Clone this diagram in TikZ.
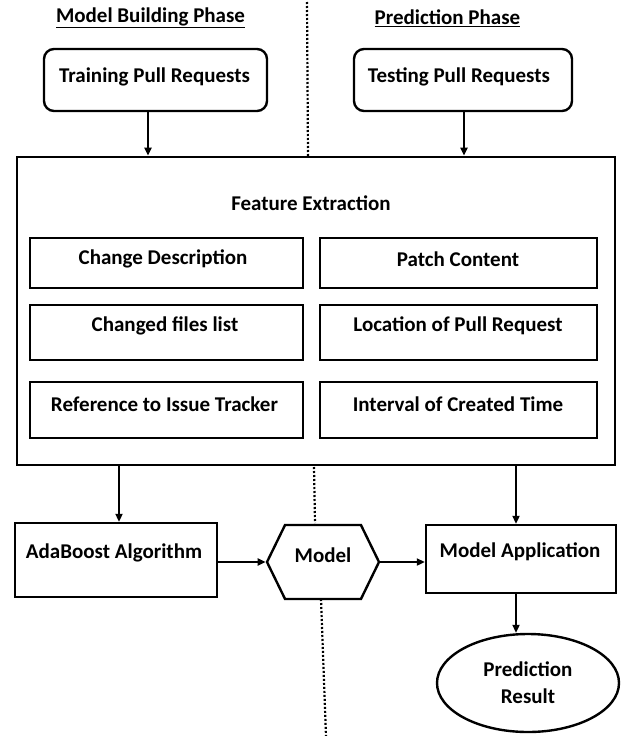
\documentclass[tikz,border=0pt]{standalone}
\usepackage{fontspec}
\setmainfont{Carlito}
\usetikzlibrary{arrows.meta,shapes.geometric,shapes.symbols}
\begin{document}
\begin{tikzpicture}[x=1pt,y=-1pt,
  box/.style={draw,line width=2.4pt,inner sep=0pt},
  txt/.style={font=\bfseries\fontsize{21}{27}\selectfont,inner sep=0pt,align=center},
  arr/.style={line width=2pt,-{Triangle[length=8pt,width=7pt]}},
  dots/.style={line width=2.2pt,dash pattern=on 2pt off 2pt}]
\useasboundingbox (0,0) rectangle (621,736);
% headings
\node[txt] (h1) at (150.5,18) {\underline{Model Building Phase}};
\node[txt] (h2) at (447.5,18) {\underline{Prediction Phase}};
% divider
\coordinate (v1) at (307,2); \coordinate (v2) at (308,157);
\coordinate (v3) at (314,467); \coordinate (v4) at (315,523);
\coordinate (v5) at (321,599); \coordinate (v6) at (326,736);
\draw[dots] (v1) -- (v2);
\draw[dots] (v3) -- (v4);
\draw[dots] (v5) -- (v6);
% inputs
\node[box,rounded corners=10pt,minimum width=223pt,minimum height=62pt] (train) at (155.5,80) {};
\node[txt] (traint) at (154.5,77) {Training Pull Requests};
\node[box,rounded corners=10pt,minimum width=218pt,minimum height=62pt] (test) at (463,80) {};
\node[txt] (testt) at (459,77) {Testing Pull Requests};
% feature extraction
\node[box,line width=2.8pt,minimum width=598pt,minimum height=308pt] (fe) at (316,311) {};
\node[txt] (fet) at (311,203) {Feature Extraction};
\node[box,minimum width=273pt,minimum height=50pt] (b1) at (166.5,263) {};
\node[txt] (b1t) at (163,259) {Change Description};
\node[box,minimum width=277pt,minimum height=50pt] (b2) at (458.5,263) {};
\node[txt] (b2t) at (458,259) {Patch Content};
\node[box,minimum width=273pt,minimum height=55pt] (b3) at (166.5,332.5) {};
\node[txt] (b3t) at (165,326) {Changed files list};
\node[box,minimum width=277pt,minimum height=55pt] (b4) at (458.5,332.5) {};
\node[txt] (b4t) at (458,326) {Location of Pull Request};
\node[box,minimum width=273pt,minimum height=56pt] (b5) at (166.5,410) {};
\node[txt] (b5t) at (164.5,404) {Reference to Issue Tracker};
\node[box,minimum width=277pt,minimum height=56pt] (b6) at (458.5,410) {};
\node[txt] (b6t) at (458,404) {Interval of Created Time};
% lower row
\node[box,minimum width=202pt,minimum height=74pt] (ada) at (116,560) {};
\node[txt] (adat) at (114,553) {AdaBoost Algorithm};
\node[box,shape=signal,signal to=east and west,signal pointer angle=128,minimum width=112pt,minimum height=74pt] (model) at (323,562) {};
\node[txt] (modelt) at (323,555) {Model};
\node[box,minimum width=190pt,minimum height=68pt] (app) at (521,559) {};
\node[txt] (appt) at (520,552) {Model Application};
\node[box,ellipse,minimum width=182pt,minimum height=98pt] (res) at (528,683) {};
\node[txt] (rest) at (528,683) {Prediction\\Result};
% connectors
\coordinate (cL) at (148,0); \coordinate (cR) at (464,0);
\coordinate (dL) at (119,0); \coordinate (dR) at (516,0);
\draw[arr] (cL |- train.south) -- (cL |- fe.north);
\draw[arr] (cR |- test.south) -- (cR |- fe.north);
\draw[arr] (dL |- fe.south) -- (dL |- ada.north);
\draw[arr] (dR |- fe.south) -- (dR |- app.north);
\draw[arr] (ada.east |- model.west) -- (model.west);
\draw[arr] (model.east) -- (model.east -| app.west);
\draw[arr] (dR |- app.south) -- (dR |- res.north);
\end{tikzpicture}
\end{document}
